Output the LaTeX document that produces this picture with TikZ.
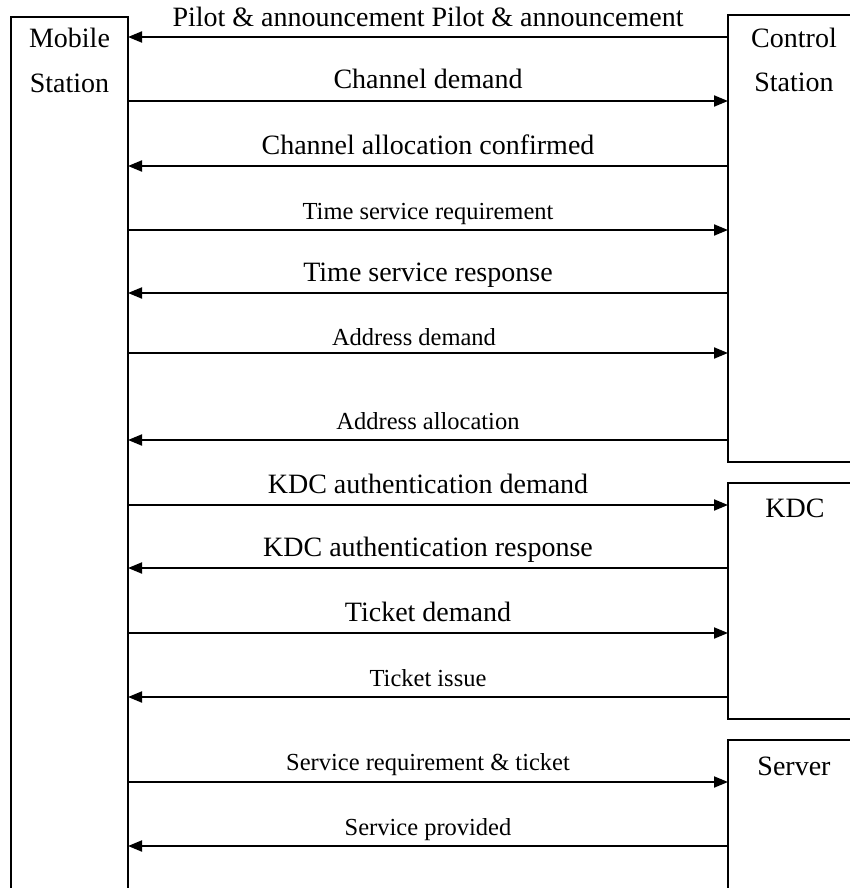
\documentclass[tikz,border=0pt]{standalone}
\usepackage{fontspec}
\setmainfont{Liberation Serif}
\usetikzlibrary{arrows.meta}
\begin{document}
\begin{tikzpicture}[x=1pt,y=-1pt,
  box/.style={line width=1.9pt},
  msg/.style={line width=1.9pt,-{Triangle[length=14pt,width=11pt]}},
  big/.style={font=\fontsize{28}{30}\selectfont},
  small/.style={font=\fontsize{24.5}{27}\selectfont},
  lbl/.style={anchor=base,inner sep=0pt,yshift=11pt}]
\useasboundingbox (0,0) rectangle (850,888);
% boxes
\draw[box] (11,888) -- (11,17) -- (128,17) -- (128,888);
\draw[box] (850,15) -- (728,15) -- (728,462) -- (850,462);
\draw[box] (850,483) -- (728,483) -- (728,719) -- (850,719);
\draw[box] (850,740) -- (728,740) -- (728,888);
% box titles
\node[big,anchor=base,inner sep=0pt] (ms1) at (69.5,48) {Mobile};
\node[big,anchor=base,inner sep=0pt] (ms2) at (69.5,93) {Station};
\node[big,anchor=base,inner sep=0pt] (cs1) at (794,48) {Control};
\node[big,anchor=base,inner sep=0pt] (cs2) at (794,92) {Station};
\node[big,anchor=base,inner sep=0pt] (kdc) at (795,517) {KDC};
\node[big,anchor=base,inner sep=0pt] (srv) at (794,775) {Server};
% edge coordinates
\foreach \i/\y in {1/37,2/101,3/166,4/230,5/293,6/353,7/440,8/505,9/568,10/633,11/697,12/782,13/846}{
  \coordinate (m\i) at (128,\y);
  \coordinate (r\i) at (728,\y);
}
% messages
\draw[msg] (r1) -- (m1) node[midway,lbl,big,yshift=-1pt] (t1) {Pilot \& announcement Pilot \& announcement};
\draw[msg] (m2) -- (r2) node[midway,lbl,big,yshift=1pt] (t2) {Channel demand};
\draw[msg] (r3) -- (m3) node[midway,lbl,big,yshift=1pt] (t3) {Channel allocation confirmed};
\draw[msg] (m4) -- (r4) node[midway,lbl,small] (t4) {Time service requirement};
\draw[msg] (r5) -- (m5) node[midway,lbl,big,yshift=1pt] (t5) {Time service response};
\draw[msg] (m6) -- (r6) node[midway,lbl,small,yshift=-3pt,xshift=-14pt] (t6) {Address demand};
\draw[msg] (r7) -- (m7) node[midway,lbl,small] (t7) {Address allocation};
\draw[msg] (m8) -- (r8) node[midway,lbl,big,yshift=1pt] (t8) {KDC authentication demand};
\draw[msg] (r9) -- (m9) node[midway,lbl,big,yshift=1pt] (t9) {KDC authentication response};
\draw[msg] (m10) -- (r10) node[midway,lbl,big,yshift=1pt] (t10) {Ticket demand};
\draw[msg] (r11) -- (m11) node[midway,lbl,small] (t11) {Ticket issue};
\draw[msg] (m12) -- (r12) node[midway,lbl,small,yshift=1pt] (t12) {Service requirement \& ticket};
\draw[msg] (r13) -- (m13) node[midway,lbl,small] (t13) {Service provided};
\end{tikzpicture}
\end{document}
